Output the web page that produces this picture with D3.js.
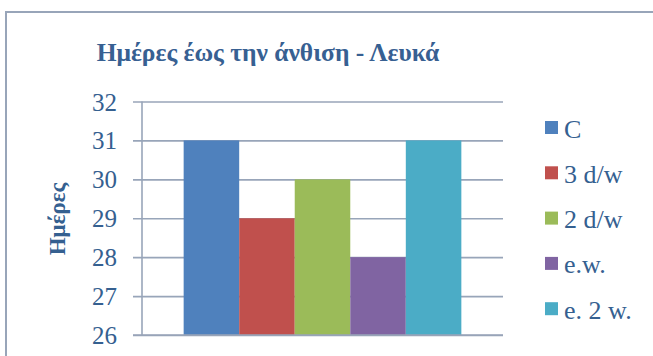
<!DOCTYPE html>
<html>
<head>
<meta charset="utf-8">
<script src="https://cdn.jsdelivr.net/npm/d3@7/dist/d3.min.js"></script>
<style>
  html, body { margin: 0; padding: 0; background: #fff; }
  svg { display: block; }
</style>
</head>
<body>
<svg id="chart" width="653" height="356"></svg>
<script>
// Days until flowering, white variety
const titleText = "Ημέρες έως την άνθιση - Λευκά";
const yAxisTitle = "Ημέρες";
const seriesNames = ["C", "3 d/w", "2 d/w", "e.w.", "e. 2 w."];
const seriesValues = [31, 29, 30, 28, 31];
const seriesColors = ["#4f81bd", "#c0504d", "#9bbb59", "#8064a2", "#4bacc6"];
const yTicks = [26, 27, 28, 29, 30, 31, 32];

const svg = d3.select("#chart");
const serif = "Liberation Serif";
const textColor = "#356090";
const gridColor = "#98a5b9";

// Outer frame
svg.append("path")
  .attr("d", "M6,356 V12 H653")
  .attr("fill", "none")
  .attr("stroke", gridColor)
  .attr("stroke-width", 2);

const plot = { left: 142, right: 503, top: 101.5, bottom: 335 };

const y = d3.scaleLinear()
  .domain([d3.min(yTicks), d3.max(yTicks)])
  .range([plot.bottom, plot.top]);

// One category holding all five series; gap between groups is 150% of a bar
const x = d3.scaleBand()
  .domain(seriesNames)
  .range([plot.left, plot.right])
  .paddingInner(0)
  .paddingOuter(0.75);

// Gridlines and tick labels
const yAxis = d3.axisLeft(y)
  .tickValues(yTicks)
  .tickFormat(d3.format("d"))
  .tickSize(0)
  .tickPadding(16);

const gy = svg.append("g")
  .attr("transform", `translate(${plot.left - 9},0)`)
  .call(yAxis);
gy.select(".domain").remove();
gy.selectAll(".tick line")
  .attr("x1", 0)
  .attr("x2", plot.right - plot.left + 9)
  .attr("stroke", gridColor)
  .attr("stroke-width", 1.6);
gy.selectAll(".tick text")
  .attr("x", -16)
  .attr("fill", textColor)
  .attr("font-family", serif)
  .attr("font-size", 25)
  .attr("dy", "0.34em");

// Vertical axis line
svg.append("line")
  .attr("x1", plot.left).attr("x2", plot.left)
  .attr("y1", plot.top).attr("y2", plot.bottom)
  .attr("stroke", gridColor)
  .attr("stroke-width", 1.6);

// Bars
svg.append("g")
  .selectAll("rect")
  .data(seriesNames.map((name, i) => ({ name, value: seriesValues[i], color: seriesColors[i] })))
  .join("rect")
  .attr("x", d => x(d.name))
  .attr("width", x.bandwidth())
  .attr("y", d => y(d.value))
  .attr("height", d => y(d3.min(yTicks)) - y(d.value))
  .attr("fill", d => d.color);

// Baseline on top of bars
svg.append("line")
  .attr("x1", plot.left - 9).attr("x2", plot.right)
  .attr("y1", plot.bottom).attr("y2", plot.bottom)
  .attr("stroke", gridColor)
  .attr("stroke-width", 1.6);

// Title
svg.append("text")
  .attr("x", 268)
  .attr("y", 61)
  .attr("text-anchor", "middle")
  .attr("font-family", serif)
  .attr("font-weight", "bold")
  .attr("font-size", 25.5)
  .attr("fill", "#376092")
  .text(titleText);

// Vertical axis title
svg.append("text")
  .attr("transform", "translate(65,219) rotate(-90)")
  .attr("text-anchor", "middle")
  .attr("font-family", serif)
  .attr("font-weight", "bold")
  .attr("font-size", 23)
  .attr("fill", textColor)
  .text(yAxisTitle);

// Legend
const legend = svg.append("g")
  .selectAll("g")
  .data(seriesNames)
  .join("g")
  .attr("transform", (d, i) => `translate(545,${127.5 + i * 45.3})`);
legend.append("rect")
  .attr("x", 0).attr("y", -6.5)
  .attr("width", 13).attr("height", 13)
  .attr("fill", (d, i) => seriesColors[i]);
legend.append("text")
  .attr("x", 19)
  .attr("y", 10)
  .attr("font-family", serif)
  .attr("font-size", 26)
  .attr("fill", textColor)
  .text(d => d);
</script>
</body>
</html>
